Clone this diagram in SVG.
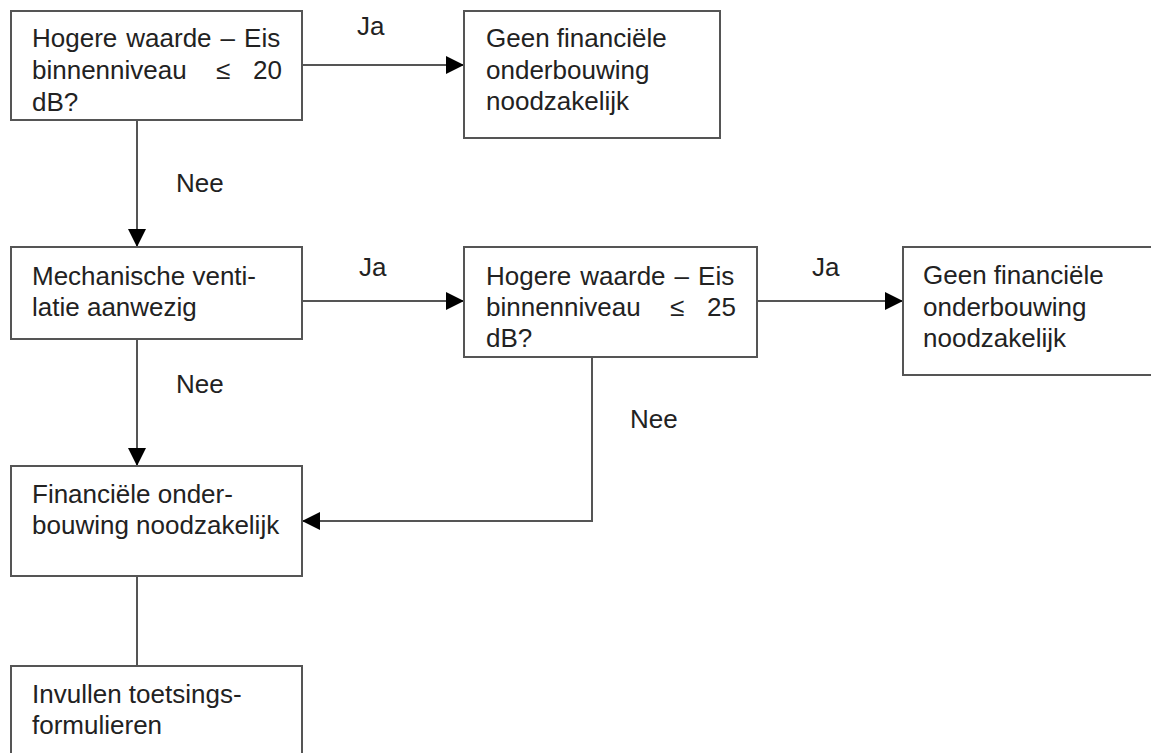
<svg xmlns="http://www.w3.org/2000/svg" width="1151" height="753" viewBox="0 0 1151 753">
<style>
.box{fill:#fff;stroke:#555;stroke-width:2}
.t{font-family:"Liberation Sans",Arial,sans-serif;font-size:26px;fill:#222}
.c{fill:none;stroke:#555;stroke-width:2}
</style>
<defs>
<marker id="ah" markerWidth="18" markerHeight="18" refX="18" refY="9" orient="auto" markerUnits="userSpaceOnUse">
<path d="M0,0 L18,9 L0,18 Z" fill="#000"/>
</marker>
</defs>
<rect width="1151" height="753" fill="#fff"/>
<g id="connectors">
<path class="c" d="M302,65 H464" marker-end="url(#ah)"/>
<path class="c" d="M137,120 V247" marker-end="url(#ah)"/>
<path class="c" d="M302,301 H464" marker-end="url(#ah)"/>
<path class="c" d="M757,301 H903" marker-end="url(#ah)"/>
<path class="c" d="M137,339 V466" marker-end="url(#ah)"/>
<path class="c" d="M592,357 V521 H302" marker-end="url(#ah)"/>
<path class="c" d="M137,576 V666"/>
<text class="t" x="357" y="35">Ja</text>
<text class="t" x="176" y="192">Nee</text>
<text class="t" x="359" y="276">Ja</text>
<text class="t" x="812" y="276">Ja</text>
<text class="t" x="176" y="393">Nee</text>
<text class="t" x="630" y="428">Nee</text>
</g>
<g id="n1">
<rect class="box" x="11" y="11" width="291" height="109"/>
<text class="t" x="32" y="47" word-spacing="1.8">Hogere waarde – Eis</text>
<text class="t" y="79"><tspan x="32">binnenniveau</tspan><tspan x="216">≤</tspan><tspan x="282" text-anchor="end">20</tspan></text>
<text class="t" x="32" y="111">dB?</text>
</g>
<g id="n2">
<rect class="box" x="464" y="11" width="256" height="127"/>
<text class="t" x="486" y="47">Geen financiële</text>
<text class="t" x="486" y="78.5">onderbouwing</text>
<text class="t" x="486" y="110">noodzakelijk</text>
</g>
<g id="n3">
<rect class="box" x="11" y="247" width="291" height="92"/>
<text class="t" x="32" y="285">Mechanische venti-</text>
<text class="t" x="32" y="316">latie aanwezig</text>
</g>
<g id="n4">
<rect class="box" x="464" y="247" width="293" height="110"/>
<text class="t" x="486" y="285" word-spacing="1.8">Hogere waarde – Eis</text>
<text class="t" y="316"><tspan x="486">binnenniveau</tspan><tspan x="670">≤</tspan><tspan x="736" text-anchor="end">25</tspan></text>
<text class="t" x="486" y="347">dB?</text>
</g>
<g id="n5">
<rect class="box" x="903" y="247" width="260" height="128"/>
<text class="t" x="923" y="284">Geen financiële</text>
<text class="t" x="923" y="316">onderbouwing</text>
<text class="t" x="923" y="347">noodzakelijk</text>
</g>
<g id="n6">
<rect class="box" x="11" y="466" width="291" height="110"/>
<text class="t" x="32" y="503">Financiële onder-</text>
<text class="t" x="32" y="534">bouwing noodzakelijk</text>
</g>
<g id="n7">
<rect class="box" x="11" y="666" width="291" height="100"/>
<text class="t" x="32" y="703">Invullen toetsings-</text>
<text class="t" x="32" y="734">formulieren</text>
</g>
</svg>
